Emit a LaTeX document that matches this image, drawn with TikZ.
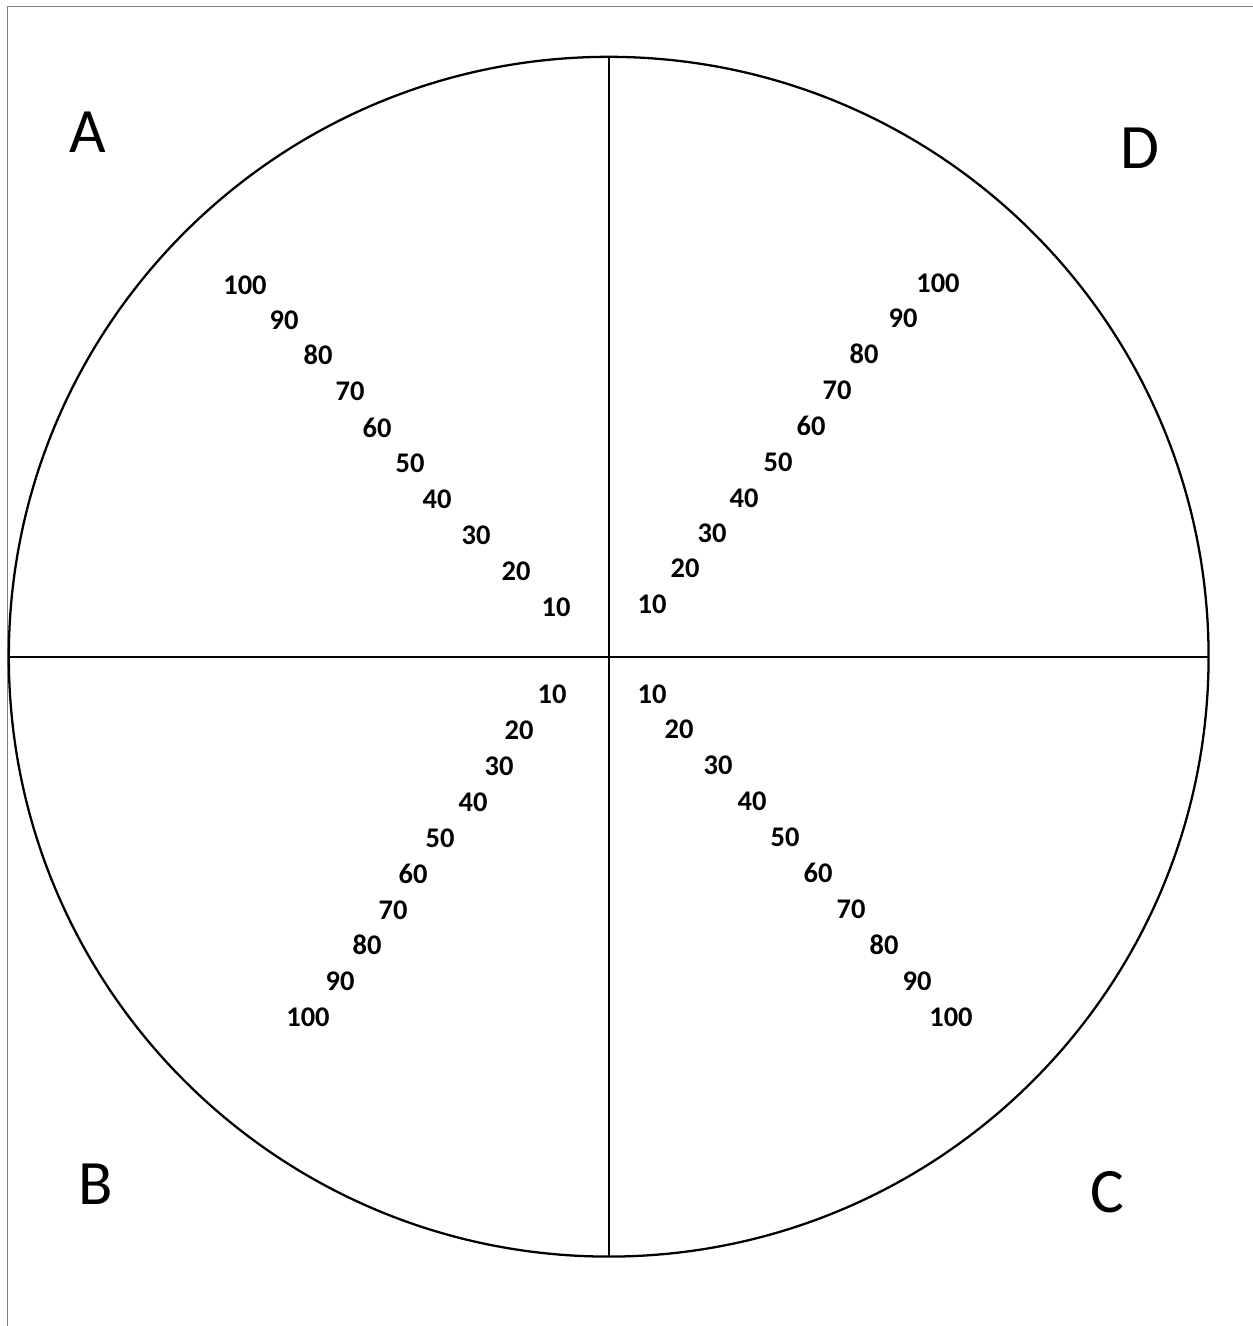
\documentclass[tikz,border=0pt]{standalone}
\usepackage{fontspec}
\setmainfont{Carlito}
\usetikzlibrary{positioning}

\begin{document}
\begin{tikzpicture}[
    x=0.02cm, y=-0.02cm,
    num/.style={font=\bfseries\fontsize{16.2}{16}\selectfont, inner sep=0pt},
    quad/.style={font=\fontsize{36}{36}\selectfont, inner sep=0pt},
    rim/.style={line width=1.3pt}
  ]
  \useasboundingbox (0,0) rectangle (1253,1326);
  % page edge
  \draw[gray, line width=0.85pt] (7.5,1326) -- (7.5,6.5) -- (1253,6.5);

  \node[circle, draw, rim, minimum size=24cm, inner sep=0pt, outer sep=0pt]
    (dial) at (608.7,656.7) {};
  \draw[rim] (dial.north) -- (dial.south);
  \draw[rim] (dial.west) -- (dial.east);

  \node[quad] (qa) at (88,132) {A};
  \node[quad] (qd) at (1140,148) {D};
  \node[quad] (qb) at (96,1184) {B};
  \node[quad] (qc) at (1107,1192) {C};

  % scale readings
  \foreach \v/\x/\y [count=\i] in {100/245/285, 90/284/320, 80/318/355,
      70/350/391, 60/377/428, 50/410/463, 40/437/499, 30/476/535,
      20/516/571, 10/556/607} {
    \node[num] (a\i) at (\x,\y) {\v};
  }
  \foreach \v/\x/\y [count=\i] in {100/938/283, 90/903/318, 80/864/354,
      70/837/390, 60/811/426, 50/778/462, 40/744/498, 30/712/533,
      20/685/568, 10/652/604} {
    \node[num] (d\i) at (\x,\y) {\v};
  }
  \foreach \v/\x/\y [count=\i] in {10/552/694, 20/519/730, 30/499/766,
      40/473/802, 50/440/838, 60/413/874, 70/393/910, 80/367/945,
      90/340/981, 100/308/1017} {
    \node[num] (b\i) at (\x,\y) {\v};
  }
  \foreach \v/\x/\y [count=\i] in {10/652/694, 20/679/729, 30/718/765,
      40/752/801, 50/785/837, 60/818/873, 70/851/909, 80/884/945,
      90/917/981, 100/951/1017} {
    \node[num] (c\i) at (\x,\y) {\v};
  }
\end{tikzpicture}
\end{document}
